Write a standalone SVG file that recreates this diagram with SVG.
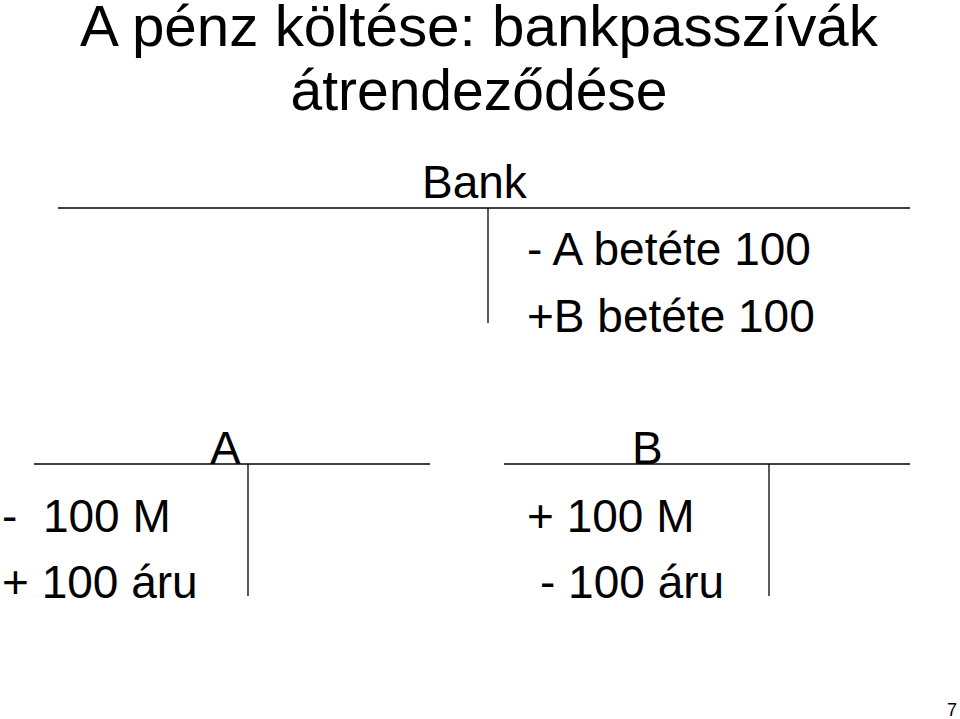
<svg xmlns="http://www.w3.org/2000/svg" width="960" height="719" viewBox="0 0 960 719">
<style>
text{font-family:"Liberation Sans",Arial,sans-serif;fill:#000}
.t{font-size:57px;text-anchor:middle}
.b{font-size:46px}
.ln{stroke:#000;stroke-width:1.3;fill:none}
</style>
<rect width="960" height="719" fill="#fff"/>
<g id="title">
<text class="t" x="479" y="46" textLength="798" lengthAdjust="spacingAndGlyphs">A pénz költése: bankpasszívák</text>
<text class="t" x="479" y="110">átrendeződése</text>
</g>
<g id="bank">
<text class="b" x="422" y="198">Bank</text>
<text class="b" x="527" y="265">- A betéte 100</text>
<text class="b" x="527" y="332">+B betéte 100</text>
</g>
<g id="accountA">
<text class="b" x="210" y="464">A</text>
<text class="b" x="2" y="532" xml:space="preserve">-  100 M</text>
<text class="b" x="2" y="598">+ 100 áru</text>
</g>
<g id="accountB">
<text class="b" x="632" y="464">B</text>
<text class="b" x="527" y="532">+ 100 M</text>
<text class="b" x="540" y="598">- 100 áru</text>
</g>
<g id="connectors">
<line class="ln" x1="58" y1="208" x2="910" y2="208"/>
<line class="ln" x1="488" y1="208" x2="488" y2="323"/>
<line class="ln" x1="34" y1="464" x2="430" y2="464"/>
<line class="ln" x1="248" y1="464" x2="248" y2="596"/>
<line class="ln" x1="504" y1="464" x2="910" y2="464"/>
<line class="ln" x1="769" y1="464" x2="769" y2="596"/>
</g>
<g id="page">
<text x="947" y="716" font-size="18">7</text>
</g>
</svg>
